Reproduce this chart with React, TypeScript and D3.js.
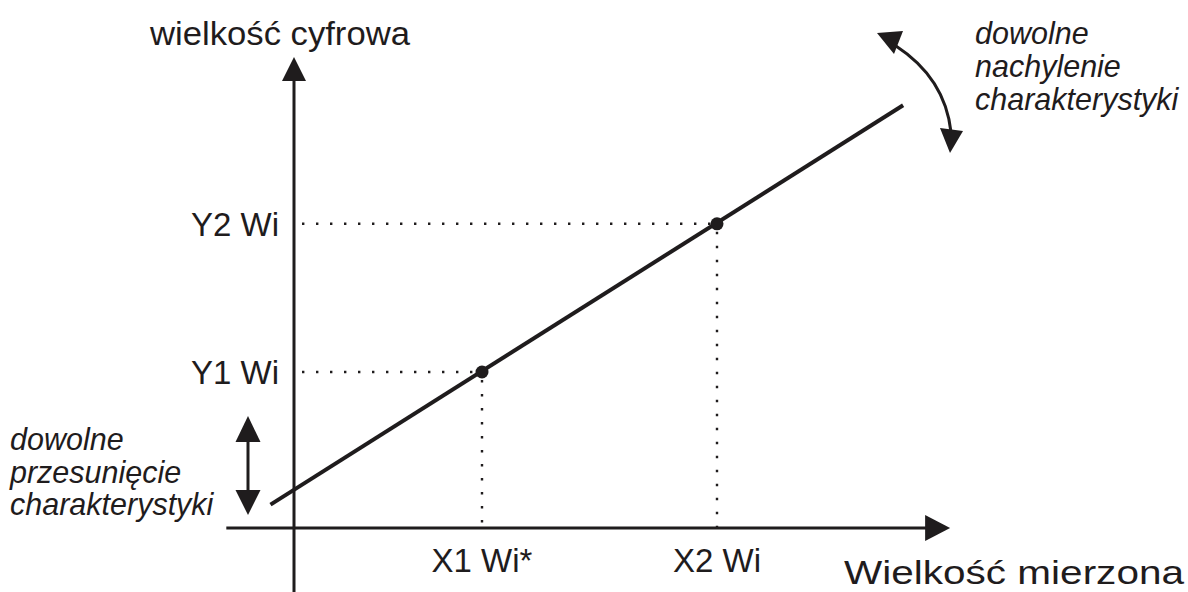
import * as d3 from "d3";
import { useEffect, useRef } from "react";

// measured points on the characteristic (data units)
const pointX = [2, 4.5];
const pointY = [2, 3.9];
const xLabels = ["X1 Wi*", "X2 Wi"];
const yLabels = ["Y1 Wi", "Y2 Wi"];

// ends of the characteristic line
const lineX = [-0.25, 6.48];
const lineY = [0.3, 5.42];

// axis extents
const xAxisExtent = [-0.72, 6.98];
const yAxisExtent = [-0.82, 6.04];

const rightNote = ["dowolne", "nachylenie", "charakterystyki"];
const leftNote = ["dowolne", "przesunięcie", "charakterystyki"];

const W = 1188;
const H = 592;
const INK = "#1f1c1d";
const FONT = "'Liberation Sans', Arial, Helvetica, sans-serif";

export default function App() {
  const ref = useRef<SVGSVGElement | null>(null);

  useEffect(() => {
    document.body.style.margin = "0";
    const svg = d3.select(ref.current);
    svg.selectAll("*").remove();

    const x = d3.scaleLinear().domain([0, 1]).range([294, 388]);
    const y = d3.scaleLinear().domain([0, 1]).range([528, 450]);

    const g = svg.append("g");

    // axes
    g.append("line")
      .attr("x1", x(xAxisExtent[0]))
      .attr("x2", x(xAxisExtent[1]) - 20)
      .attr("y1", y(0))
      .attr("y2", y(0))
      .attr("stroke", INK)
      .attr("stroke-width", 3);
    const xt = x(xAxisExtent[1]);
    g.append("path")
      .attr("d", `M${xt},${y(0)} L${xt - 25},${y(0) - 13} L${xt - 25},${y(0) + 13} Z`)
      .attr("fill", INK);

    g.append("line")
      .attr("x1", x(0))
      .attr("x2", x(0))
      .attr("y1", y(yAxisExtent[0]))
      .attr("y2", y(yAxisExtent[1]) + 20)
      .attr("stroke", INK)
      .attr("stroke-width", 3);
    const yt = y(yAxisExtent[1]);
    g.append("path")
      .attr("d", `M${x(0)},${yt} L${x(0) - 12},${yt + 24} L${x(0) + 12},${yt + 24} Z`)
      .attr("fill", INK);

    // dotted guides
    pointX.forEach((px, i) => {
      const py = pointY[i];
      g.append("line")
        .attr("x1", x(0) + 8)
        .attr("x2", x(px))
        .attr("y1", y(py))
        .attr("y2", y(py))
        .attr("stroke", INK)
        .attr("stroke-width", 2.4)
        .attr("stroke-dasharray", "2.4 11.6");
      g.append("line")
        .attr("x1", x(px))
        .attr("x2", x(px))
        .attr("y1", y(py) + 8)
        .attr("y2", y(0))
        .attr("stroke", INK)
        .attr("stroke-width", 2.4)
        .attr("stroke-dasharray", "2.4 11.6");
    });

    // characteristic
    const line = d3
      .line<number>()
      .x((d) => x(d))
      .y((_, i) => y(lineY[i]));
    g.append("path")
      .attr("d", line(lineX) || "")
      .attr("fill", "none")
      .attr("stroke", INK)
      .attr("stroke-width", 4);

    g.selectAll("circle.pt")
      .data(pointX)
      .enter()
      .append("circle")
      .attr("class", "pt")
      .attr("cx", (d) => x(d))
      .attr("cy", (_, i) => y(pointY[i]))
      .attr("r", 6.5)
      .attr("fill", INK);

    // tick labels
    g.selectAll("text.xl")
      .data(xLabels)
      .enter()
      .append("text")
      .attr("class", "xl")
      .attr("x", (_, i) => x(pointX[i]))
      .attr("y", 572)
      .attr("text-anchor", "middle")
      .style("font-family", FONT)
      .style("font-size", "33px")
      .attr("fill", INK)
      .text((d) => d);

    g.selectAll("text.yl")
      .data(yLabels)
      .enter()
      .append("text")
      .attr("class", "yl")
      .attr("x", 279)
      .attr("y", (_, i) => y(pointY[i]) + 12)
      .attr("text-anchor", "end")
      .style("font-family", FONT)
      .style("font-size", "33px")
      .attr("fill", INK)
      .text((d) => d);

    // axis titles
    g.append("text")
      .attr("x", 150)
      .attr("y", 45)
      .attr("textLength", 260)
      .attr("lengthAdjust", "spacingAndGlyphs")
      .style("font-family", FONT)
      .style("font-size", "34px")
      .attr("fill", INK)
      .text("wielkość cyfrowa");

    g.append("text")
      .attr("x", 844)
      .attr("y", 584)
      .attr("textLength", 340)
      .attr("lengthAdjust", "spacingAndGlyphs")
      .style("font-family", FONT)
      .style("font-size", "33px")
      .attr("fill", INK)
      .text("Wielkość mierzona");

    // notes
    rightNote.forEach((t, i) => {
      g.append("text")
        .attr("x", 975)
        .attr("y", 44 + i * 33)
        .style("font-family", FONT)
        .style("font-style", "italic")
        .style("font-size", "30.5px")
        .attr("fill", INK)
        .text(t);
    });
    leftNote.forEach((t, i) => {
      g.append("text")
        .attr("x", 10)
        .attr("y", 450 + i * 32.5)
        .style("font-family", FONT)
        .style("font-style", "italic")
        .style("font-size", "30.5px")
        .attr("fill", INK)
        .text(t);
    });

    // shift arrow (vertical double)
    const ax = 248;
    g.append("line")
      .attr("x1", ax)
      .attr("x2", ax)
      .attr("y1", 440)
      .attr("y2", 492)
      .attr("stroke", INK)
      .attr("stroke-width", 3);
    g.append("path")
      .attr("d", `M${ax},416 L${ax - 12.5},442 L${ax + 12.5},442 Z`)
      .attr("fill", INK);
    g.append("path")
      .attr("d", `M${ax},515 L${ax - 12.5},490 L${ax + 12.5},490 Z`)
      .attr("fill", INK);

    // slope arrow (curved double)
    g.append("path")
      .attr("d", "M896,46 Q945,78 951,132")
      .attr("fill", "none")
      .attr("stroke", INK)
      .attr("stroke-width", 3);
    g.append("path")
      .attr("d", "M877,33 L903,31 L894,54 Z")
      .attr("fill", INK);
    g.append("path")
      .attr("d", "M950,153 L940,128 L963,131 Z")
      .attr("fill", INK);
  }, []);

  return <svg ref={ref} width={W} height={H} style={{ display: "block", background: "#fff" }} />;
}
